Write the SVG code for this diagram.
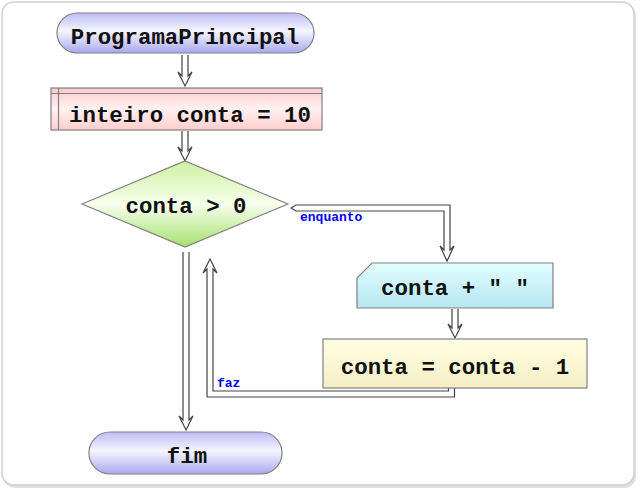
<svg xmlns="http://www.w3.org/2000/svg" width="640" height="490" viewBox="0 0 640 490">
<defs>
<linearGradient id="gTerm" x1="0" y1="0" x2="0" y2="1">
<stop offset="0" stop-color="#bcbcf6"/><stop offset="0.45" stop-color="#f6f6ff"/><stop offset="1" stop-color="#a8a8ee"/>
</linearGradient>
<linearGradient id="gDecl" x1="0" y1="0" x2="0" y2="1">
<stop offset="0" stop-color="#ffcaca"/><stop offset="0.5" stop-color="#fff2f2"/><stop offset="1" stop-color="#ffcccc"/>
</linearGradient>
<linearGradient id="gCond" x1="0" y1="0" x2="0" y2="1">
<stop offset="0" stop-color="#cdf0a0"/><stop offset="0.5" stop-color="#f6ffec"/><stop offset="1" stop-color="#a6e070"/>
</linearGradient>
<linearGradient id="gOut" x1="0" y1="0" x2="0" y2="1">
<stop offset="0" stop-color="#e2ffff"/><stop offset="1" stop-color="#b6e6f2"/>
</linearGradient>
<linearGradient id="gProc" x1="0" y1="0" x2="0" y2="1">
<stop offset="0" stop-color="#ffffe2"/><stop offset="1" stop-color="#f4eec6"/>
</linearGradient>
</defs>
<style>
.node{stroke:#808080;stroke-width:1.2}
.t{font-family:"Liberation Mono","Courier New",monospace;font-weight:bold;font-size:22.4px;fill:#111;text-anchor:middle}
.lbl{font-family:"Liberation Mono","Courier New",monospace;font-weight:bold;font-size:13px;fill:#0000ff}
.conn{fill:#ffffff;stroke:#444;stroke-width:1.2;stroke-linejoin:miter}
</style>
<rect x="3" y="4" width="633" height="484" rx="12" fill="#e0e0e0"/>
<rect x="2" y="2" width="632" height="483" rx="12" fill="#ffffff" stroke="#cfcfcf" stroke-width="1.5"/>

<g id="connectors">
<polyline class="conn" points="182,55 182,76 178,72 185,86 192,72 188,76 188,55"/>
<polyline class="conn" points="182,131 182,151 178,147 185,161 192,147 188,151 188,131"/>
<polygon class="conn" points="291,208 296,205 450,205 450,250 454,246 447,261 440,246 444,250 444,211 296,211"/>
<polyline class="conn" points="452,309 452,328 448,324 455,338 462,324 458,328 458,309"/>
<polyline class="conn" points="448.5,388 448.5,391 213,391 213,269 217,273 210,259 203,273 207,269 207,397 454.5,397 454.5,388"/>
<polyline class="conn" points="183,252 183,420 179,416 186,430 193,416 189,420 189,252"/>
<text class="lbl" x="300" y="221">enquanto</text>
<text class="lbl" x="217" y="387">faz</text>
</g>

<g id="start">
<rect class="node" x="57" y="13" width="257" height="40" rx="20" fill="url(#gTerm)"/>
<text class="t" x="185" y="44">ProgramaPrincipal</text>
</g>

<g id="decl">
<rect class="node" x="51" y="88" width="271" height="42" fill="url(#gDecl)"/>
<line class="node" x1="51" y1="93.5" x2="322" y2="93.5"/>
<line class="node" x1="58.5" y1="88" x2="58.5" y2="130"/>
<text class="t" x="190" y="122">inteiro conta = 10</text>
</g>

<g id="cond">
<polygon class="node" points="82,204 185,161 288,204 185,247" fill="url(#gCond)"/>
<text class="t" x="186" y="213">conta &gt; 0</text>
</g>

<g id="output">
<polygon class="node" points="372,263 553,263 553,308 357,308 357,278" fill="url(#gOut)"/>
<text class="t" x="455" y="295">conta + " "</text>
</g>

<g id="assign">
<rect class="node" x="323" y="339" width="264" height="49" fill="url(#gProc)"/>
<text class="t" x="455" y="374">conta = conta - 1</text>
</g>

<g id="end">
<rect class="node" x="89" y="432" width="193" height="42" rx="21" fill="url(#gTerm)"/>
<text class="t" x="187" y="463">fim</text>
</g>
</svg>
